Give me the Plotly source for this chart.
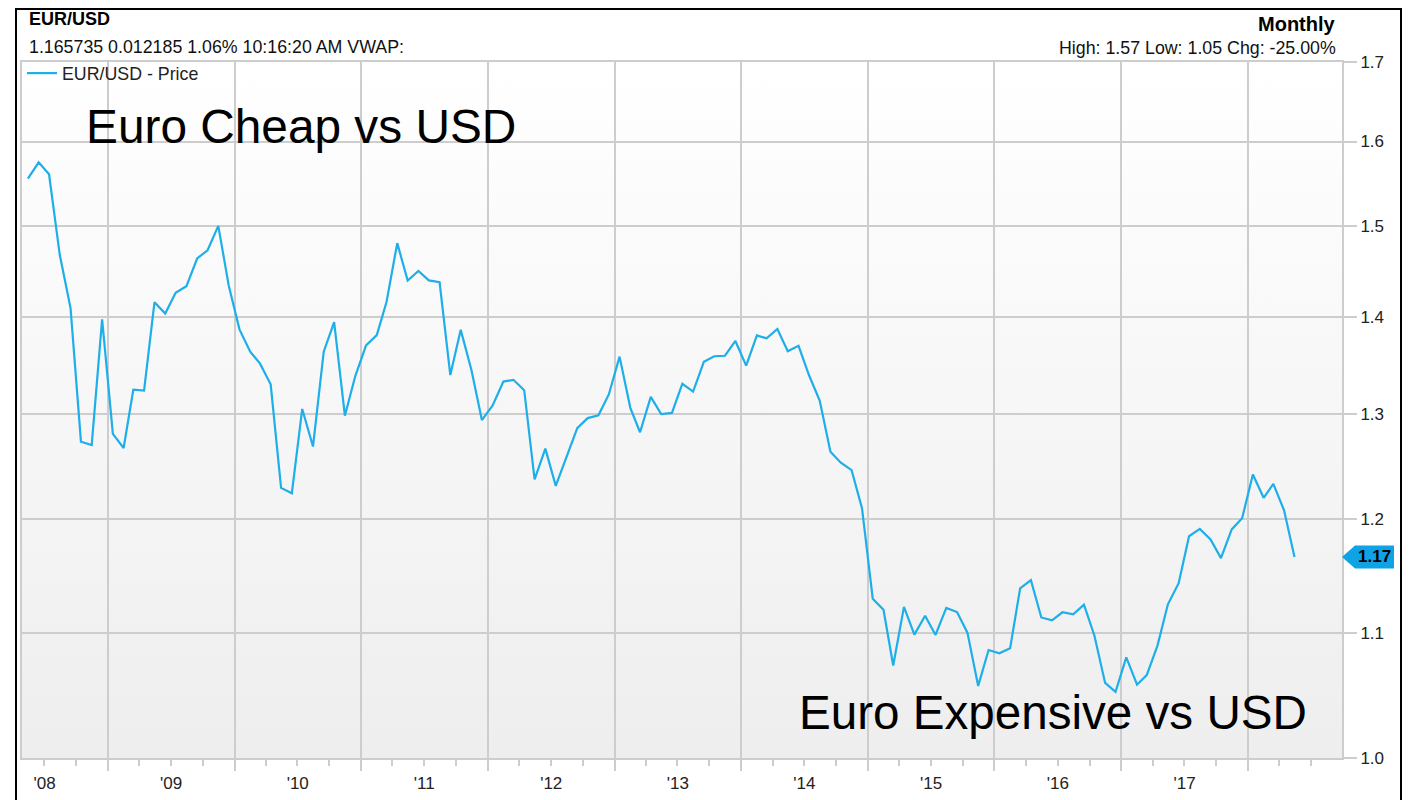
import base64
import math

import pandas as pd
import plotly.graph_objects as go

# monthly EUR/USD closes (May 2008 .. May 2018)
p2008 = [1.5553, 1.5748, 1.5605, 1.4673, 1.4092, 1.2727, 1.2695, 1.3971]
p2009 = [1.2803, 1.2666, 1.3242, 1.3232, 1.4155, 1.4033, 1.4257, 1.4328, 1.4635, 1.4727, 1.5004, 1.4336]
p2010 = [1.3865, 1.3631, 1.3510, 1.3296, 1.2287, 1.2236, 1.3049, 1.2680, 1.3631, 1.3943, 1.2982, 1.3380]
p2011 = [1.3697, 1.3805, 1.4157, 1.4807, 1.4391, 1.4496, 1.4393, 1.4373, 1.3390, 1.3860, 1.3440, 1.2939]
p2012 = [1.3084, 1.3324, 1.3342, 1.3237, 1.2366, 1.2660, 1.2306, 1.2577, 1.2859, 1.2958, 1.2986, 1.3194]
p2013 = [1.3580, 1.3060, 1.2819, 1.3169, 1.2998, 1.3010, 1.3302, 1.3223, 1.3526, 1.3584, 1.3589, 1.3743]
p2014 = [1.3487, 1.3801, 1.3770, 1.3869, 1.3635, 1.3692, 1.3391, 1.3133, 1.2631, 1.2525, 1.2454, 1.2098]
p2015 = [1.1291, 1.1196, 1.0731, 1.1221, 1.0986, 1.1146, 1.0984, 1.1212, 1.1177, 1.1003, 1.0565, 1.0858]
p2016 = [1.0831, 1.0872, 1.1380, 1.1452, 1.1131, 1.1106, 1.1175, 1.1157, 1.1240, 1.0979, 1.0589, 1.0517]
p2017 = [1.0797, 1.0575, 1.0652, 1.0895, 1.1243, 1.1426, 1.1842, 1.1908, 1.1813, 1.1646, 1.1904, 1.2005]
p2018 = [1.2413, 1.2194, 1.2324, 1.2078, 1.1657]

prices = p2008 + p2009 + p2010 + p2011 + p2012 + p2013 + p2014 + p2015 + p2016 + p2017 + p2018
months = pd.date_range("2008-05-01", periods=len(prices), freq="MS") + pd.Timedelta(days=14)

years = list(range(2008, 2018))
year_labels = ["'%02d" % (y % 100) for y in years]
y_ticks = [1.0, 1.1, 1.2, 1.3, 1.4, 1.5, 1.6, 1.7]

LINE = "#1eaee9"
GRID = "#cdcdcd"
FONT = "Liberation Sans, Arial, sans-serif"

# soft white -> grey gradient behind the plot area
svg = ("<svg xmlns='http://www.w3.org/2000/svg' width='100' height='100' preserveAspectRatio='none'>"
       "<defs><linearGradient id='g' x1='0' y1='0' x2='0' y2='1'>"
       "<stop offset='0' stop-color='#ffffff'/><stop offset='1' stop-color='#eeeeee'/>"
       "</linearGradient></defs><rect width='100' height='100' fill='url(#g)'/></svg>")
bg_src = "data:image/svg+xml;base64," + base64.b64encode(svg.encode()).decode()

x_range = ["2008-04-28", "2018-09-29"]

fig = go.Figure()
fig.add_trace(go.Scatter(
    x=months, y=prices, mode="lines", name="EUR/USD - Price",
    line=dict(color=LINE, width=2.2),
))
# invisible copy so the year-grid axis has something on it
fig.add_trace(go.Scatter(
    x=months, y=prices, xaxis="x2", mode="lines", showlegend=False,
    hoverinfo="skip", line=dict(width=0), opacity=0,
))

# the page body adds an 8px offset, so the figure is 8px smaller
fig.update_layout(
    width=1404, height=792,
    margin=dict(l=14, r=70, t=54, b=42),
    paper_bgcolor="white",
    plot_bgcolor="rgba(0,0,0,0)",
    font=dict(family=FONT, size=17, color="#222"),
    showlegend=True,
    legend=dict(x=0, y=1.01, xanchor="left", yanchor="top", bgcolor="rgba(0,0,0,0)",
                font=dict(size=17.8, color="#222"), itemwidth=30),
    xaxis=dict(
        type="date", range=x_range, automargin=False,
        tickvals=[f"{y}-07-02" for y in years], ticktext=year_labels,
        ticks="outside", ticklen=9, tickcolor="rgba(0,0,0,0)",
        showgrid=False, tickfont=dict(size=17, color="#222"),
        showline=True, linecolor=GRID, linewidth=2, mirror=True,
        minor=dict(ticks="outside", dtick="M3", tick0="2008-01-01", ticklen=6,
                   tickcolor=GRID, tickwidth=2, showgrid=False),
        zeroline=False,
    ),
    xaxis2=dict(
        type="date", range=x_range, overlaying="x", anchor="y", side="bottom", automargin=False,
        tickvals=[f"{y}-01-01" for y in years[1:] + [2018]],
        showticklabels=False, ticks="outside", ticklen=12, tickcolor=GRID, tickwidth=2,
        showgrid=True, gridcolor=GRID, gridwidth=2, zeroline=False,
    ),
    yaxis=dict(
        type="log", range=[0, math.log10(1.7)], side="right", automargin=False,
        tickvals=y_ticks, ticktext=["%.1f" % v for v in y_ticks],
        ticks="outside", ticklen=13, tickcolor=GRID, tickwidth=2,
        showgrid=True, gridcolor=GRID, gridwidth=2,
        showline=True, linecolor=GRID, linewidth=2, mirror=True,
        tickfont=dict(size=17, color="#222"), zeroline=False,
    ),
    images=[dict(source=bg_src, xref="paper", yref="paper", x=0, y=1, sizex=1, sizey=1,
                 sizing="stretch", layer="below")],
)

# helpers: page pixel -> paper fraction
def px_x(px):
    return (px - 22) / 1320


def px_y(py):
    return (758 - py) / 696


fig.add_annotation(text="<b>EUR/USD</b>", xref="paper", yref="paper", x=px_x(27), y=px_y(18.5),
                   xanchor="left", yanchor="middle", showarrow=False, font=dict(size=18, color="black"))
fig.add_annotation(text="1.165735 0.012185 1.06% 10:16:20 AM VWAP:", xref="paper", yref="paper",
                   x=px_x(27), y=px_y(47), xanchor="left", yanchor="middle", showarrow=False,
                   font=dict(size=17.8, color="#111"))
fig.add_annotation(text="<b>Monthly</b>", xref="paper", yref="paper", x=px_x(1338), y=px_y(24),
                   xanchor="right", yanchor="middle", showarrow=False, font=dict(size=20, color="black"))
fig.add_annotation(text="High: 1.57 Low: 1.05 Chg: -25.00%", xref="paper", yref="paper",
                   x=px_x(1338), y=px_y(48), xanchor="right", yanchor="middle", showarrow=False,
                   font=dict(size=17.8, color="#111"))

# big callouts
fig.add_annotation(text="Euro Cheap vs USD", xref="paper", yref="paper", x=px_x(84), y=px_y(127),
                   xanchor="left", yanchor="middle", showarrow=False, font=dict(size=47.8, color="black"))
fig.add_annotation(text="Euro Expensive vs USD", xref="paper", yref="paper", x=px_x(797), y=px_y(712),
                   xanchor="left", yanchor="middle", showarrow=False, font=dict(size=47.6, color="black"))

# last-price badge on the right axis
last = prices[-1]
fig.add_shape(type="path", xref="paper", xsizemode="pixel", xanchor=1,
              yref="y", ysizemode="pixel", yanchor=last,
              path="M0,0 L13,11.5 L52,11.5 L52,-11.5 L13,-11.5 Z",
              fillcolor="#0ea3e4", line=dict(width=0), layer="above")
fig.add_annotation(text="<b>%.2f</b>" % last, xref="paper", x=1, xshift=32, y=math.log10(last),
                   xanchor="center", yanchor="middle", showarrow=False,
                   font=dict(size=17, color="black"))

# outer frame (top edge kept just inside the drawable area)
fig.add_shape(type="rect", xref="paper", yref="paper", x0=px_x(16), x1=px_x(1401),
              y0=px_y(830), y1=px_y(9), line=dict(color="black", width=2), layer="above")

fig.write_html("out.html")
